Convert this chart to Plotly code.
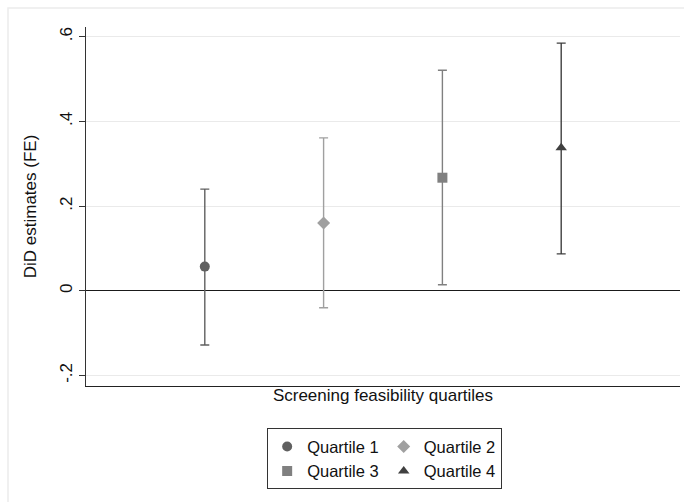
import plotly.graph_objects as go

# DiD estimates by screening-feasibility quartile with 95% CIs
quartiles = ["Quartile 1", "Quartile 2", "Quartile 3", "Quartile 4"]
positions = [1, 2, 3, 4]
estimates = [0.057, 0.160, 0.267, 0.338]
ci_low = [-0.128, -0.040, 0.014, 0.087]
ci_high = [0.240, 0.361, 0.521, 0.585]

colors = ["#606060", "#a0a0a0", "#808080", "#404040"]
symbols = ["circle", "diamond", "square", "triangle-up"]
sizes = [10, 10, 10, 10]
groups = ["a", "b", "a", "b"]

ytick_vals = [-0.2, 0, 0.2, 0.4, 0.6]
ytick_text = ["-.2", "0", ".2", ".4", ".6"]

FONT = "Liberation Sans, Arial, sans-serif"

fig = go.Figure()
for i in range(len(quartiles)):
    fig.add_trace(go.Scatter(
        x=[positions[i]],
        y=[estimates[i]],
        mode="markers",
        name=quartiles[i],
        legendgroup=groups[i],
        marker=dict(symbol=symbols[i], size=sizes[i], color=colors[i],
                    line=dict(width=0)),
        error_y=dict(
            type="data", symmetric=False,
            array=[ci_high[i] - estimates[i]],
            arrayminus=[estimates[i] - ci_low[i]],
            color=colors[i], thickness=1.4, width=4.5,
        ),
        hoverinfo="x+y",
    ))

fig.update_layout(
    width=684, height=502,
    margin=dict(l=86, r=4, t=27, b=116),
    paper_bgcolor="white",
    plot_bgcolor="white",
    font=dict(family=FONT, size=17, color="#111111"),
    showlegend=True,
    legend=dict(
        orientation="h",
        traceorder="grouped",
        x=0.305, xanchor="left",
        y=-0.118, yanchor="top",
        bordercolor="#333333", borderwidth=1,
        bgcolor="white",
        font=dict(family=FONT, size=16.5, color="#111111"),
        tracegroupgap=4,
        itemwidth=30,
    ),
    shapes=[
        # light frame around the graph region
        dict(type="rect", xref="paper", yref="paper",
             x0=(8 - 86) / 594, x1=1.2,
             y0=-0.6, y1=1 + (27 - 8) / 359,
             line=dict(color="#ececec", width=1.5), layer="below"),
    ],
)

fig.update_xaxes(
    range=[0, 5],
    showgrid=False, zeroline=False,
    showticklabels=False, ticks="",
    showline=True, linecolor="#222222", linewidth=1.2,
    title=dict(text="Screening feasibility quartiles", standoff=2,
               font=dict(size=17)),
)

fig.update_yaxes(
    range=[-0.225, 0.623],
    tickvals=ytick_vals, ticktext=ytick_text,
    tickangle=-90,
    ticks="outside", ticklen=6, tickcolor="#333333", tickwidth=1.2,
    showgrid=True, gridcolor="#eaeaea", gridwidth=1.3,
    zeroline=True, zerolinecolor="#1a1a1a", zerolinewidth=1.4,
    showline=True, linecolor="#333333", linewidth=1.2,
    tickfont=dict(size=17),
    title=dict(text="DiD estimates (FE)", standoff=16, font=dict(size=17)),
)

fig.write_html("out.html")
